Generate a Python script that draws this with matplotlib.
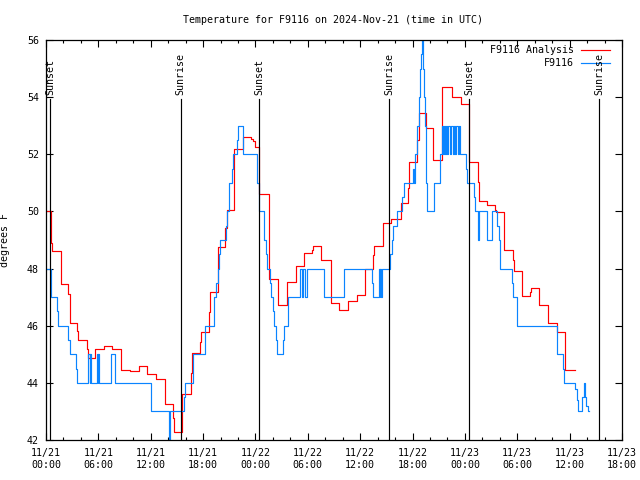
import matplotlib
matplotlib.use("Agg")
import matplotlib.pyplot as plt
from matplotlib.ticker import MultipleLocator

# hours since 11/21 00:00 UTC, step values (post)
red_hours = [0.0, 0.53, 0.61, 0.73, 1.68, 1.76, 2.56, 2.75, 3.59, 3.70, 4.66, 4.81,
             5.61, 6.65, 7.60, 8.63, 9.63, 10.66, 11.61, 12.64, 13.60, 14.59, 14.72,
             15.60, 16.58, 16.73, 17.65, 17.76, 18.68, 18.76, 19.67, 20.55, 20.70,
             21.58, 22.53, 23.49, 23.70, 23.90, 24.00, 24.45, 25.60, 26.64, 27.58,
             28.61, 29.60, 30.52, 30.65, 31.51, 32.62, 33.61, 34.57, 35.60, 36.55,
             37.45, 37.58, 38.60, 39.49, 40.64, 41.52, 41.63, 42.47, 42.78, 43.54,
             44.38, 45.40, 46.48, 47.51, 48.50, 49.54, 49.62, 50.57, 51.45, 51.60,
             52.52, 53.55, 53.65, 54.58, 55.50, 55.60, 56.53, 57.56, 58.51, 59.50, 60.58]
red_temps = [50.0, 49.6, 48.9, 48.6, 48.0, 47.45, 47.1, 46.1, 45.8, 45.5, 45.2, 44.86,
             45.2, 45.3, 45.2, 44.44, 44.4, 44.58, 44.31, 44.12, 43.26, 42.76, 42.27,
             43.6, 44.33, 45.03, 45.44, 45.78, 46.49, 47.17, 48.76, 49.41, 50.04,
             52.2, 52.62, 52.55, 52.45, 52.3, 52.24, 50.6, 47.62, 46.73, 47.54,
             48.09, 48.53, 48.65, 48.79, 48.3, 46.81, 46.55, 46.87, 47.08, 47.97,
             48.48, 48.8, 49.58, 49.72, 50.28, 50.81, 51.74, 52.5, 53.43, 52.91,
             51.8, 54.37, 54.02, 53.76, 51.72, 51.04, 50.35, 50.23, 50.05, 49.97,
             48.65, 48.3, 47.92, 47.04, 47.19, 47.32, 46.73, 46.08, 45.77, 44.45, 44.45]

blue_hours = [0.0, 0.53, 1.30, 1.41, 2.56, 2.70, 3.48, 3.59, 4.85, 5.00, 5.05, 5.12,
              5.88, 5.95, 6.00, 6.11, 7.41, 7.85, 12.07, 14.09, 14.20, 15.80, 15.89,
              16.85, 18.18, 19.29, 19.44, 19.67, 19.86, 19.94, 20.60, 20.78, 20.93,
              21.31, 21.47, 21.85, 21.96, 22.54, 24.22, 24.45, 25.02, 25.17, 25.30,
              25.63, 25.78, 26.05, 26.16, 26.32, 26.51, 27.20, 27.31, 27.69, 29.10,
              29.35, 29.45, 29.70, 29.85, 31.89, 34.18, 37.32, 37.50, 38.16, 38.25,
              38.32, 38.39, 38.46, 39.42, 39.65, 39.80, 40.18, 40.75, 41.06, 42.09,
              42.20, 42.28, 42.47, 42.78, 42.86, 42.97, 43.12, 43.24, 43.35, 43.43,
              43.54, 43.70, 44.46, 45.15, 45.34, 45.50, 45.60, 45.75, 45.85, 46.00,
              46.10, 46.30, 46.40, 46.60, 46.70, 46.90, 47.00, 47.20, 47.30, 47.44,
              48.13, 48.25, 49.00, 49.10, 49.55, 49.60, 49.62, 49.65, 50.57, 51.14,
              51.72, 51.87, 52.02, 53.44, 53.55, 53.93, 54.01, 58.52, 59.28, 59.39,
              60.62, 60.80, 61.00, 61.38, 61.60, 61.76, 61.90, 62.07, 62.20]
blue_temps = [48, 47, 46.5, 46, 45.5, 45, 44.5, 44, 45, 44, 45, 44,
              45, 44, 45, 44, 45, 44, 43, 42, 43, 43.5, 44,
              45, 46, 47, 47.5, 48, 48.5, 49, 49.5, 50, 51,
              51.5, 52, 52.5, 53, 52, 51, 50, 49, 48.5, 48,
              47.5, 47, 46.5, 46, 45.5, 45, 45.5, 46, 47, 48,
              47, 48, 47, 48, 47, 48, 47.5, 47, 48, 47,
              48, 47, 48, 48.5, 49, 49.5, 50, 50.5, 51, 51.5,
              51, 52, 53, 54, 55, 55.5, 56, 55, 54, 53,
              51, 50, 51, 52, 53, 52, 53, 52, 53, 52,
              53, 52, 53, 52, 53, 52, 53, 52, 53, 52,
              51.5, 51, 50.5, 50, 49, 50, 49, 50, 49, 50,
              49.5, 49, 48, 47.5, 47, 46.5, 46, 45, 44.5, 44,
              43.8, 43.4, 43, 43.5, 44, 43.5, 43.2, 43, 43]

sun_hours = [0.46, 15.43, 24.45, 39.34, 48.47, 63.4]
sun_labels = ["Sunset", "Sunrise", "Sunset", "Sunrise", "Sunset", "Sunrise"]

tick_hours = list(range(0, 67, 6))
tick_labels = ["11/21\n00:00", "11/21\n06:00", "11/21\n12:00", "11/21\n18:00",
               "11/22\n00:00", "11/22\n06:00", "11/22\n12:00", "11/22\n18:00",
               "11/23\n00:00", "11/23\n06:00", "11/23\n12:00", "11/23\n18:00"]

plt.rcParams['font.family'] = 'DejaVu Sans Mono'
fs = 7.2

fig = plt.figure(figsize=(6.4, 4.8), dpi=100)
ax = fig.add_axes([46/640, 1 - 440/480, 576/640, 400/480])

red_c = '#ff0000'
blue_c = '#0a84ff'
ax.plot(red_hours, red_temps, drawstyle='steps-post', color=red_c, lw=0.85)
ax.plot(blue_hours, blue_temps, drawstyle='steps-post', color=blue_c, lw=0.85)

for h, lab in zip(sun_hours, sun_labels):
    ax.axvline(h, ymin=0, ymax=0.853, color='black', lw=0.85)
    ax.text(h, 0.862, lab, transform=ax.get_xaxis_transform(), rotation=90,
            ha='center', va='bottom', fontsize=fs)

ax.set_xlim(0, 66)
ax.set_ylim(42, 56)
ax.set_xticks(tick_hours)
ax.set_xticklabels(tick_labels)
ax.xaxis.set_minor_locator(MultipleLocator(2))
ax.set_yticks(range(42, 57, 2))
ax.tick_params(which='both', direction='in', top=True, right=True, labelsize=fs, width=0.8)
ax.tick_params(which='major', length=5)
ax.tick_params(which='minor', length=2.5)
ax.tick_params(axis='x', pad=6)
ax.tick_params(axis='y', pad=5)
for s in ax.spines.values():
    s.set_linewidth(0.9)

ax.set_ylabel("degrees F", fontsize=fs)
ax.yaxis.set_label_coords(-0.062, 0.5)

fig.text(333/640, 1 - 20/480, "Temperature for F9116 on 2024-Nov-21 (time in UTC)",
         ha='center', va='center', fontsize=fs)

# legend, gnuplot style (text then sample)
leg_y = [0.975, 0.9425]
leg_names = ["F9116 Analysis", "F9116"]
for yy, name, c in zip(leg_y, leg_names, [red_c, blue_c]):
    ax.text(0.9167, yy, name, transform=ax.transAxes, ha='right', va='center', fontsize=fs)
    ax.plot([0.9288, 0.979], [yy, yy], transform=ax.transAxes, color=c, lw=0.85)

fig.savefig("out.png", dpi=100)
